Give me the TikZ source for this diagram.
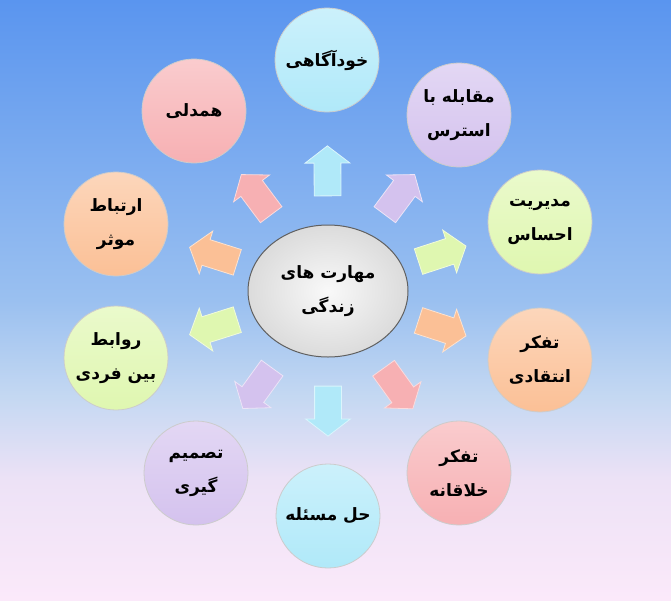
\documentclass[tikz,border=0pt]{standalone}
\usepackage{fontspec}
\usepackage{tikz}
\usetikzlibrary{shapes.geometric, shapes.arrows, calc, positioning}
\newfontfamily\arabicfont[Script=Arabic]{DejaVu Sans}
\TeXXeTstate=1
\definecolor{skycyan}{HTML}{B0E9F9}
\definecolor{skylav}{HTML}{D4C2EE}
\definecolor{skygreen}{HTML}{DFF7B0}
\definecolor{skypeach}{HTML}{FBC096}
\definecolor{skypink}{HTML}{F7B0B3}
\definecolor{bgtop}{HTML}{5A95EF}
\definecolor{bgmid}{HTML}{9AC0F0}
\definecolor{bglow}{HTML}{C4D8F2}
\definecolor{bglav}{HTML}{EDE2F6}
\definecolor{bgpink}{HTML}{FBE9FA}
\pgfdeclareverticalshading{skyfade}{100bp}{color(0bp)=(bgpink); color(25bp)=(bgpink);
  color(35bp)=(bglav); color(42bp)=(bglow); color(50bp)=(bgmid); color(75bp)=(bgtop); color(100bp)=(bgtop)}
\newcommand{\fa}[1]{\beginR #1\endR}

\begin{document}
\begin{tikzpicture}[x=1pt, y=-1pt]
    % Setup the styles for the skills
        \tikzset{skill style/.style={circle,
                                     minimum size=104pt,
                                     inner sep=0pt,
                                     draw=gray!40,
                                     line width=0.8pt,
                                     align=center,
                                     font=\arabicfont\bfseries\fontsize{17}{34}\selectfont},
                 core style/.style={ellipse,
                                    minimum width=160pt,
                                    minimum height=132pt,
                                    draw=gray!75!black,
                                    line width=1pt,
                                    inner color=white!95!gray,
                                    outer color=gray!28,
                                    align=center,
                                    font=\arabicfont\bfseries\fontsize{17}{34}\selectfont},
                 arrow style/.style={single arrow,
                                     minimum height=50pt,
                                     minimum width=44pt,
                                     single arrow head extend=9pt,
                                     single arrow tip angle=105,
                                     inner xsep=0pt,
                                     inner ysep=13pt,
                                     line width=0.8pt}}
        % Draw the background
        \shade[shading=skyfade] (0,0) rectangle (671,600);
        \useasboundingbox (0,0) rectangle (671,600);
        % Draw the core
        \node[core style] at (328, 291) (core) {\fa{مهارت های}\\\fa{زندگی}};
        % Draw the skills
        \node[skill style, top color=skycyan!65!white, bottom color=skycyan] at (327, 60) (aware) {\fa{خودآگاهی}};
        \node[skill style, top color=skylav!65!white, bottom color=skylav] at (459, 115) (stress) {\fa{مقابله با}\\\fa{استرس}};
        \node[skill style, top color=skygreen!65!white, bottom color=skygreen] at (540, 222) (emotion) {\fa{مدیریت}\\\fa{احساس}};
        \node[skill style, top color=skypeach!65!white, bottom color=skypeach] at (540, 360) (critical) {\fa{تفکر}\\\fa{انتقادی}};
        \node[skill style, top color=skypink!65!white, bottom color=skypink] at (459, 473) (creative) {\fa{تفکر}\\\fa{خلاقانه}};
        \node[skill style, top color=skycyan!65!white, bottom color=skycyan] at (328, 516) (problem) {\fa{حل مسئله}};
        \node[skill style, top color=skylav!65!white, bottom color=skylav] at (196, 473) (decision) {\fa{تصمیم}\\\fa{گیری}};
        \node[skill style, top color=skygreen!65!white, bottom color=skygreen] at (116, 358) (relation) {\fa{روابط}\\\fa{بین فردی}};
        \node[skill style, top color=skypeach!65!white, bottom color=skypeach] at (116, 224) (talk) {\fa{ارتباط}\\\fa{موثر}};
        \node[skill style, top color=skypink!65!white, bottom color=skypink] at (194, 111) (empathy) {\fa{همدلی}};
        % Draw the arrows from the core to the skills
        \foreach \s/\col in {aware/skycyan, stress/skylav, emotion/skygreen, critical/skypeach,
                             creative/skypink, problem/skycyan, decision/skylav, relation/skygreen,
                             talk/skypeach, empathy/skypink}
            \path let \p1 = ($(\s)-(core)$), \n1 = {atan2(\y1,\x1)} in
                node[arrow style, fill=\col, draw=white!55!\col, rotate=\n1] (arr-\s) at ($(core)!115pt!(\s)$) {};
\end{tikzpicture}
\end{document}
